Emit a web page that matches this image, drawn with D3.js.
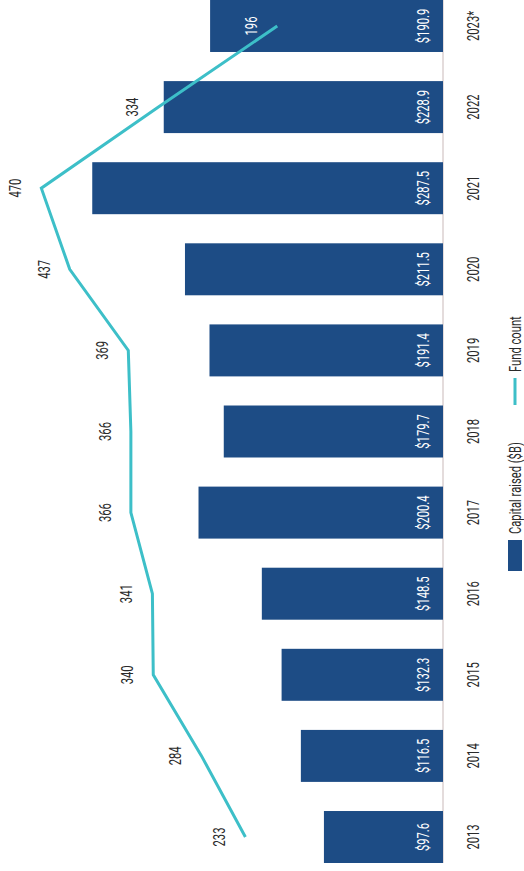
<!DOCTYPE html>
<html>
<head>
<meta charset="utf-8">
<script src="https://cdn.jsdelivr.net/npm/d3@7"></script>
<style>
  html, body { margin: 0; padding: 0; background: #fff; }
  svg { display: block; }
  text { font-family: Roboto, "Liberation Sans", sans-serif; }
</style>
</head>
<body>
<div id="chart"></div>
<script>
// ---- data ----
const years = ["2013", "2014", "2015", "2016", "2017", "2018", "2019", "2020", "2021", "2022", "2023*"];
const capitalRaised = [97.6, 116.5, 132.3, 148.5, 200.4, 179.7, 191.4, 211.5, 287.5, 228.9, 190.9];
const fundCount = [233, 284, 340, 341, 366, 366, 369, 437, 470, 334, 196];
const legendLabels = ["Capital raised ($B)", "Fund count"];

// ---- layout (chart drawn unrotated, then turned -90deg) ----
const W = 524, H = 871;          // screen size
const CW = H, CH = W;            // unrotated chart size
const SX = 0.7;                  // condensed text factor
const barColor = "#1d4c85";
const lineColor = "#3dbfc8";
const textColor = "#2a2a2a";

const svg = d3.select("#chart").append("svg")
  .attr("width", W).attr("height", H);

const g = svg.append("g")
  .attr("transform", `translate(0,${H}) rotate(-90)`);

const x = d3.scaleBand()
  .domain(years)
  .range([8, 871])
  .paddingInner(0.359)
  .paddingOuter(0);

const yCap = d3.scaleLinear().domain([0, 300]).range([443, 77]);
const yCnt = d3.scaleLinear().domain([0, 500]).range([446, 15.5]);

function condensedText(sel, size) {
  return sel.attr("font-size", size);
}

// baseline
g.append("line")
  .attr("x1", x.range()[0]).attr("x2", x.range()[1])
  .attr("y1", yCap(0)).attr("y2", yCap(0))
  .attr("stroke", "#c9b9b9").attr("stroke-width", 1);

// bars
g.selectAll("rect.bar")
  .data(years)
  .join("rect")
  .attr("class", "bar")
  .attr("x", d => x(d))
  .attr("width", x.bandwidth())
  .attr("y", (d, i) => yCap(capitalRaised[i]))
  .attr("height", (d, i) => yCap(0) - yCap(capitalRaised[i]))
  .attr("fill", barColor);

// value labels inside bars
g.selectAll("text.val")
  .data(years)
  .join("text")
  .attr("class", "val")
  .attr("transform", d => `translate(${x(d) + x.bandwidth() / 2},${yCap(0) - 20}) scale(${SX},1)`)
  .attr("text-anchor", "middle")
  .attr("dy", "0.36em")
  .attr("font-size", 16)
  .attr("fill", "#ffffff")
  .text((d, i) => "$" + capitalRaised[i].toFixed(1));

// year labels
g.selectAll("text.year")
  .data(years)
  .join("text")
  .attr("class", "year")
  .attr("transform", d => `translate(${x(d) + x.bandwidth() / 2},${yCap(0) + 30}) scale(${SX},1)`)
  .attr("text-anchor", "middle")
  .attr("dy", "0.36em")
  .attr("font-size", 16)
  .attr("fill", textColor)
  .text(d => d);

// fund count line
const line = d3.line()
  .x((d, i) => x(years[i]) + x.bandwidth() / 2)
  .y(d => yCnt(d));

g.append("path")
  .datum(fundCount)
  .attr("d", line)
  .attr("fill", "none")
  .attr("stroke", lineColor)
  .attr("stroke-width", 3)
  .attr("stroke-linejoin", "miter");

// fund count labels
g.selectAll("text.cnt")
  .data(fundCount)
  .join("text")
  .attr("class", "cnt")
  .attr("transform", (d, i) => `translate(${x(years[i]) + x.bandwidth() / 2},${yCnt(d) - 26}) scale(${SX},1)`)
  .attr("text-anchor", "middle")
  .attr("dy", "0.36em")
  .attr("font-size", 16)
  .attr("fill", (d, i) => (yCnt(d) - 26 > yCap(capitalRaised[i]) ? "#ffffff" : textColor))
  .text(d => d);

// legend
const leg = g.append("g");
leg.append("rect")
  .attr("x", 300).attr("y", 508)
  .attr("width", 31).attr("height", 14)
  .attr("fill", barColor);
leg.append("text")
  .attr("transform", `translate(337,515) scale(${SX},1)`)
  .attr("dy", "0.36em")
  .attr("font-size", 16)
  .attr("fill", textColor)
  .text(legendLabels[0]);
leg.append("line")
  .attr("x1", 466).attr("x2", 493)
  .attr("y1", 515).attr("y2", 515)
  .attr("stroke", lineColor).attr("stroke-width", 3);
leg.append("text")
  .attr("transform", `translate(499,515) scale(${SX},1)`)
  .attr("dy", "0.36em")
  .attr("font-size", 16)
  .attr("fill", textColor)
  .text(legendLabels[1]);
</script>
</body>
</html>
